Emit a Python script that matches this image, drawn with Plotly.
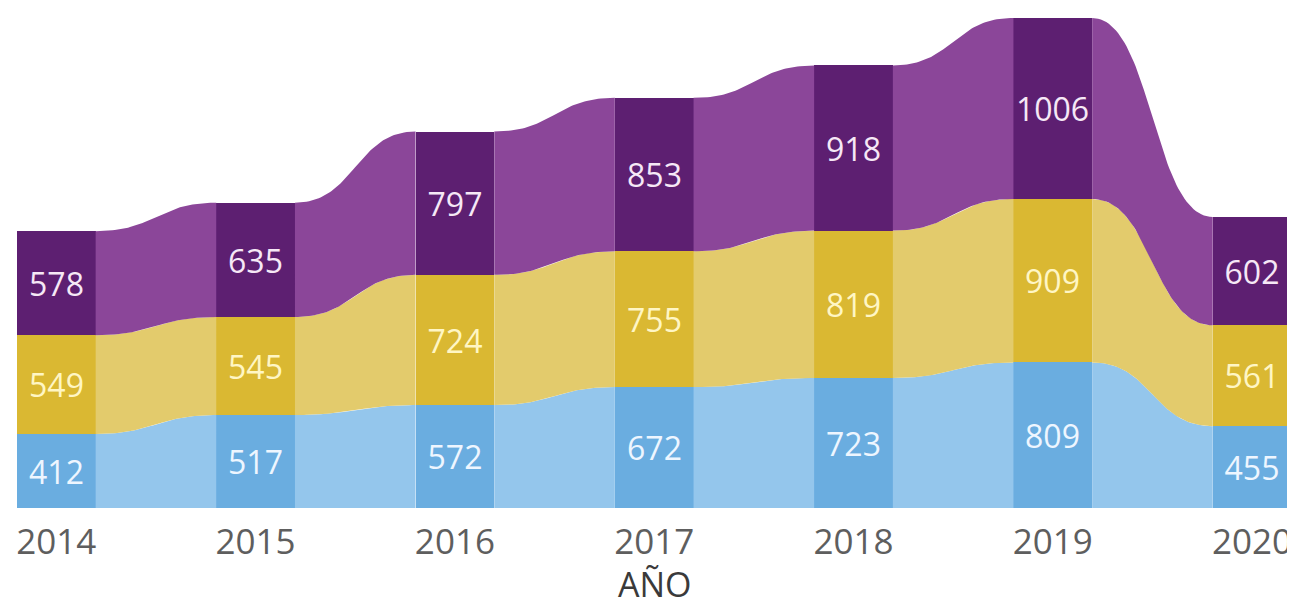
import numpy as np
import plotly.graph_objects as go

years = [2014, 2015, 2016, 2017, 2018, 2019, 2020]
series_names = ["Serie A", "Serie B", "Serie C"]
values_blue = [412, 517, 572, 672, 723, 809, 455]
values_yellow = [549, 545, 724, 755, 819, 909, 561]
values_purple = [578, 635, 797, 853, 918, 1006, 602]
axis_title = "AÑO"

bar_colors = ["#6AADE0", "#DAB832", "#5D1F71"]
ribbon_colors = ["#94C6EC", "#E3CB6C", "#8B4699"]
label_colors = ["#EEF6FF", "#FFF6C4", "#F6E8F6"]

series = [values_blue, values_yellow, values_purple]
bar_w = 0.395
FONT = "Open Sans"

fig = go.Figure()

# cumulative bases
bases = []
run = np.zeros(len(years))
for vals in series:
    bases.append(run.copy())
    run = run + np.array(vals)

# ribbons between bars
t = np.linspace(0, 1, 60)
def bez(xa, xb, y0, y1):
    xm = (xa + xb) / 2
    x = xa * (1 - t) ** 3 + 3 * xm * (1 - t) ** 2 * t + 3 * xm * (1 - t) * t ** 2 + xb * t ** 3
    y = y0 + (y1 - y0) * (3 * t ** 2 - 2 * t ** 3)
    return x, y

for s, vals in enumerate(series):
    for i in range(len(years) - 1):
        xa = years[i] + bar_w / 2
        xb = years[i + 1] - bar_w / 2
        b0, b1 = bases[s][i], bases[s][i + 1]
        t0, t1 = b0 + vals[i], b1 + vals[i + 1]
        xt, yt = bez(xa, xb, t0, t1)
        xbm, ybm = bez(xa, xb, b0, b1)
        xs = list(xt) + list(xbm[::-1])
        ys = list(yt) + list(ybm[::-1])
        fig.add_trace(go.Scatter(x=xs, y=ys, mode="lines", fill="toself",
                                 fillcolor=ribbon_colors[s], line=dict(width=0),
                                 hoverinfo="skip", showlegend=False))

for s, vals in enumerate(series):
    fig.add_trace(go.Bar(
        x=years, y=vals, base=bases[s], width=bar_w,
        marker=dict(color=bar_colors[s], line=dict(width=0)),
        text=[str(v) for v in vals], textposition="inside",
        insidetextanchor="middle", constraintext="none", textangle=0,
        textfont=dict(family=FONT, size=32, color=label_colors[s]),
        name=series_names[s], showlegend=False))

W, H = 1287, 600
spacing = 199.3
c0 = 48.3
xr = [years[0] - c0 / spacing, years[0] + (W - c0) / spacing]
scale = 490 / 2724
yr = [0, 500 / scale]

fig.update_layout(
    width=W, height=H,
    margin=dict(l=0, r=0, t=0, b=H - 500, autoexpand=False),
    paper_bgcolor="white", plot_bgcolor="white",
    barmode="overlay", bargap=0,
    xaxis=dict(range=xr, tickvals=years, ticktext=[str(y) for y in years],
               showgrid=False, zeroline=False, showline=False, ticks="",
               automargin=False,
               ticklabelstandoff=10,
               tickfont=dict(family=FONT, size=35, color="#5E5E5E")),
    yaxis=dict(range=yr, visible=False, showgrid=False, zeroline=False,
               automargin=False),
    annotations=[dict(text=axis_title, xref="paper", yref="paper", x=0.5, y=0,
                      xanchor="center", yanchor="middle", xshift=3, yshift=-76,
                      showarrow=False, borderpad=0,
                      font=dict(family=FONT, size=34, color="#3A3A3A"))],
)

fig.write_html("out.html")
